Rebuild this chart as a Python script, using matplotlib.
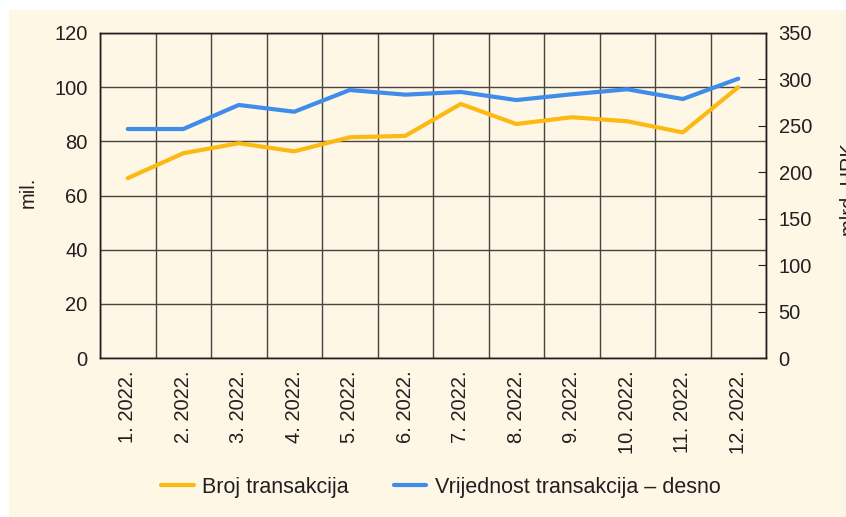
import numpy as np
import matplotlib.pyplot as plt
from matplotlib.patches import Rectangle

plt.rcParams['font.family'] = ['Liberation Sans', 'DejaVu Sans']

months = ['1. 2022.', '2. 2022.', '3. 2022.', '4. 2022.', '5. 2022.', '6. 2022.',
          '7. 2022.', '8. 2022.', '9. 2022.', '10. 2022.', '11. 2022.', '12. 2022.']
broj = [66.4, 75.6, 79.3, 76.3, 81.5, 82.0, 93.8, 86.4, 88.9, 87.4, 83.3, 100.0]
vrijednost = [246.6, 246.6, 272.5, 265.2, 288.6, 283.6, 286.5, 277.8, 284.0, 289.4, 278.9, 300.8]

bg = '#fef7e6'
txt = '#231f20'
grid_c = '#4a4440'
fs = 14.5

fig = plt.figure(figsize=(8.46, 5.17), dpi=100)
fig.patch.set_facecolor('white')
fig.patches.append(Rectangle((9 / 846, 0), 1, 1 - 10 / 517, transform=fig.transFigure,
                             facecolor=bg, edgecolor='none', zorder=-10))

ax = fig.add_axes([100 / 846, 1 - 358 / 517, 666 / 846, 325 / 517])
ax.set_facecolor(bg)
x = np.arange(len(months))

ax.plot(x, broj, color='#fdb913', lw=3, solid_capstyle='round', zorder=3,
        label='Broj transakcija')
ax.set_xlim(-0.5, len(months) - 0.5)
ax.set_ylim(0, 120)
ax.set_yticks(np.arange(0, 121, 20))
ax.set_xticks(x)
ax.set_xticklabels(months, rotation=90, fontsize=fs, color=txt)
ax.set_xticks(np.arange(-0.5, len(months), 1), minor=True)
ax.grid(True, axis='y', color=grid_c, lw=1)
ax.grid(True, axis='x', which='minor', color=grid_c, lw=1)
ax.tick_params(axis='x', which='both', length=0, pad=9)
ax.tick_params(axis='y', length=0, labelsize=fs, labelcolor=txt, pad=9)
for s in ax.spines.values():
    s.set_color(txt)
    s.set_linewidth(1)
fig.text(28 / 846, 1 - 192 / 517, 'mil.', rotation=90, fontsize=fs, color=txt,
         ha='center', va='center')

ax2 = ax.twinx()
ax2.plot(x, vrijednost, color='#3f8ceb', lw=3, solid_capstyle='round', zorder=3,
         label='Vrijednost transakcija – desno')
ax2.set_ylim(0, 350)
ax2.set_yticks(np.arange(0, 351, 50))
ax2.tick_params(axis='y', direction='in', length=6, color=txt, labelsize=fs,
                labelcolor=txt, pad=9)
for s in ax2.spines.values():
    s.set_color(txt)
    s.set_linewidth(1)
# right axis title is cut by the page edge in the original
fig.text(849 / 846, 1 - 190 / 517, 'mlrd. HRK', rotation=90, fontsize=fs, color=txt,
         ha='center', va='center')

h1, l1 = ax.get_legend_handles_labels()
h2, l2 = ax2.get_legend_handles_labels()
fig.legend(h1 + h2, l1 + l2, loc='center', bbox_to_anchor=(441 / 846, 1 - 487 / 517),
           ncol=2, frameon=False, fontsize=15.5, handlelength=1.5, handletextpad=0.4,
           columnspacing=2.1, labelcolor=txt)

fig.savefig('out.png', dpi=100)
